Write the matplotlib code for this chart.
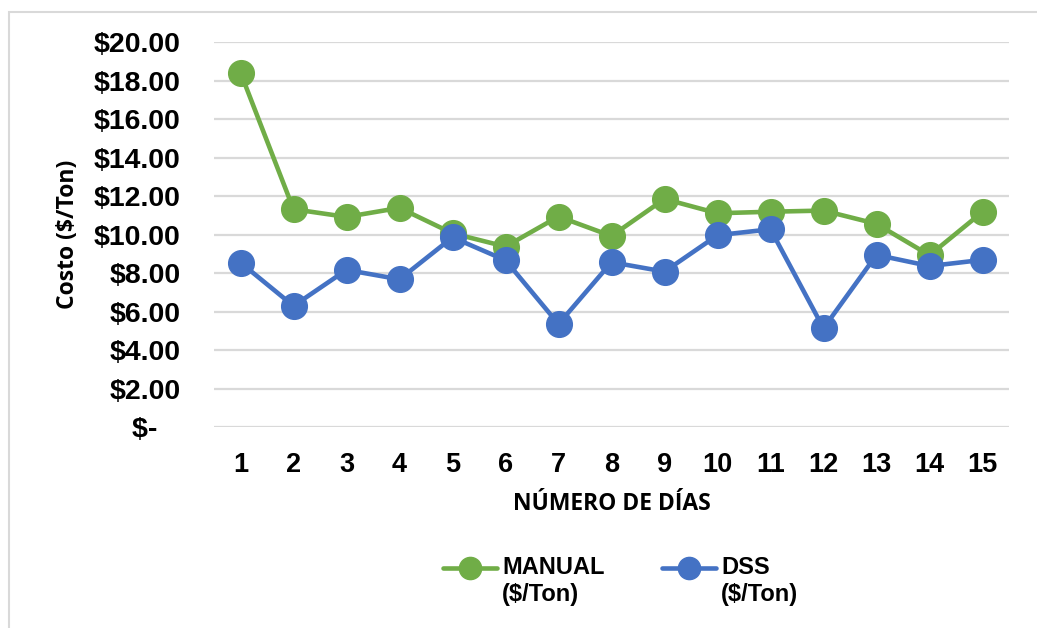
import numpy as np
import matplotlib
matplotlib.use('Agg')
import matplotlib.pyplot as plt
from matplotlib.lines import Line2D
from matplotlib.patches import Rectangle

dias = list(range(1, 16))
manual = [18.41, 11.32, 10.92, 11.39, 10.07, 9.38, 10.94, 9.93, 11.85,
          11.11, 11.19, 11.25, 10.56, 8.93, 11.18]
dss = [8.55, 6.30, 8.17, 7.68, 9.86, 8.67, 5.36, 8.57, 8.08,
       9.97, 10.28, 5.14, 8.95, 8.37, 8.69]
yticks = [0, 2, 4, 6, 8, 10, 12, 14, 16, 18, 20]
ylabels = ['$-   '] + ['${:.2f}'.format(v) for v in yticks[1:]]

green = '#70AD47'
blue = '#4472C4'
W, H = 1037, 628

fig = plt.figure(figsize=(W / 100, H / 100), dpi=100)
ax = fig.add_axes([214 / W, 1 - 427.3 / H, (1009 - 214) / W, (427.3 - 42) / H])

ax.plot(dias, manual, color=green, lw=3.3, marker='o', ms=18.5, zorder=3)
ax.plot(dias, dss, color=blue, lw=3.3, marker='o', ms=18.5, zorder=4)

ax.set_xlim(0.5, 15.5)
ax.set_ylim(0, 20)
ax.set_xticks(dias)
ax.set_yticks(yticks)
ax.set_yticklabels(ylabels)
ax.grid(axis='y', color='#D9D9D9', lw=1.6)
ax.set_axisbelow(True)
for s in ax.spines.values():
    s.set_visible(False)
ax.tick_params(length=0)
ax.tick_params(axis='y', pad=24)
ax.tick_params(axis='x', pad=18)
for lab in ax.get_yticklabels():
    lab.set_fontfamily('Liberation Sans')
    lab.set_fontweight('bold')
    lab.set_fontsize(20.5)
for lab in ax.get_xticklabels():
    lab.set_fontfamily('Liberation Sans')
    lab.set_fontweight('bold')
    lab.set_fontsize(19.5)

ax.set_xlabel('NÚMERO DE DÍAS', fontfamily='Open Sans', fontweight='bold',
              fontsize=16.5, labelpad=10)
ax.set_ylabel('Costo ($/Ton)', fontfamily='Open Sans', fontweight='bold',
              fontsize=16.5, labelpad=10)

# chart border
fig.add_artist(Rectangle((9 / W, -0.05), 1.1, 1 - 12 / H + 0.05,
                         transform=fig.transFigure, fill=False,
                         edgecolor='#D9D9D9', lw=1.5))

# legend
for x0, col, name in [(443, green, 'MANUAL'), (662, blue, 'DSS')]:
    yl = 1 - 568 / H
    fig.add_artist(Line2D([x0 / W, (x0 + 54) / W], [yl, yl], transform=fig.transFigure,
                          color=col, lw=3.3, solid_capstyle='round'))
    fig.add_artist(Line2D([(x0 + 27) / W], [yl], transform=fig.transFigure,
                          color=col, marker='o', ms=16, lw=0))
    fig.text((x0 + 59) / W, yl, name, ha='left', va='center', fontfamily='Liberation Sans',
             fontweight='bold', fontsize=17)
    fig.text((x0 + 59) / W, 1 - 595 / H, '($/Ton)', ha='left', va='center',
             fontfamily='Liberation Sans', fontweight='bold', fontsize=17)

fig.savefig('out.png', dpi=100)
